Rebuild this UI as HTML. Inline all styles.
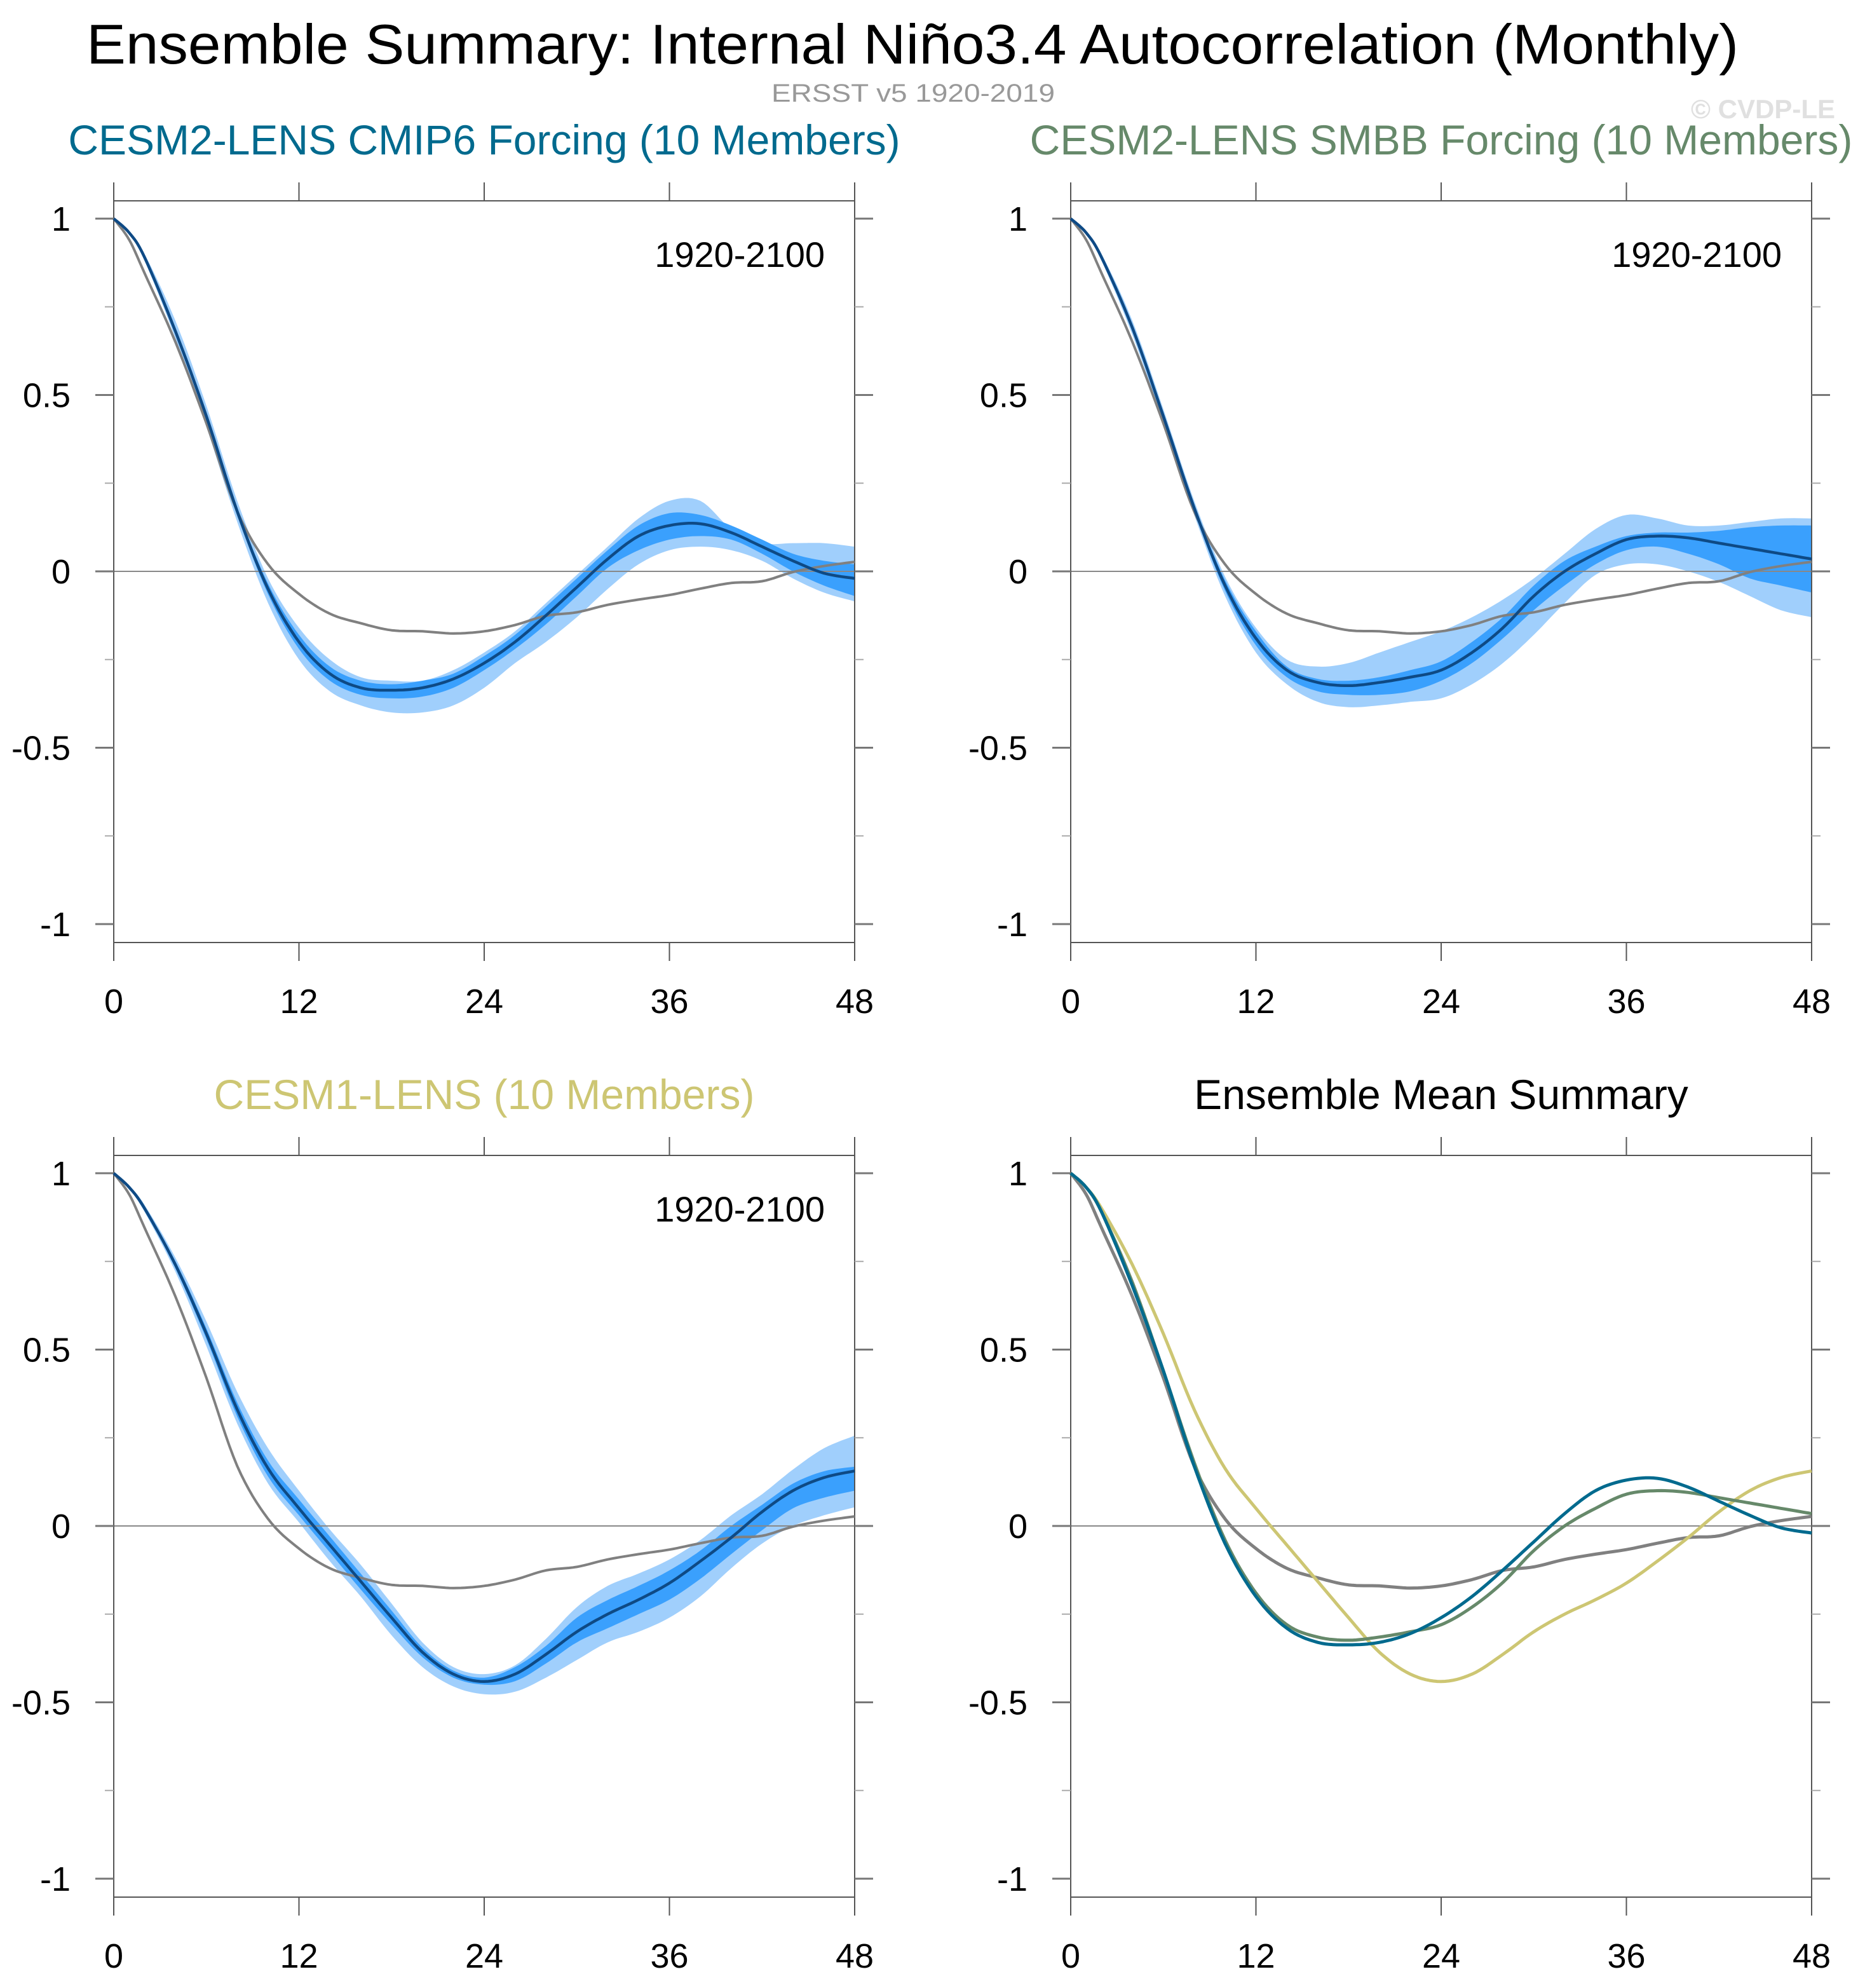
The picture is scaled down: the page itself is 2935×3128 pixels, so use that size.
<!DOCTYPE html>
<html><head><meta charset="utf-8"><style>
html,body{margin:0;padding:0;background:#fff;}
svg{display:block;font-family:"Liberation Sans",Arial,sans-serif;}
</style></head>
<body>
<svg id="fig" width="2935" height="3128" viewBox="0 0 2935 3128" xmlns="http://www.w3.org/2000/svg">
<text x="1436" y="100" font-size="88" text-anchor="middle" fill="#000" textLength="2600" lengthAdjust="spacingAndGlyphs">Ensemble Summary: Internal Niño3.4 Autocorrelation (Monthly)</text>
<text x="1437" y="160" font-size="40" text-anchor="middle" fill="#999" textLength="446" lengthAdjust="spacingAndGlyphs">ERSST v5 1920-2019</text>
<text x="2888" y="186" font-size="42" font-weight="bold" text-anchor="end" fill="#e0e0e0">© CVDP-LE</text>
<g id="plots"></g>
</svg>
<script>
// lags (month 1 added for the sharp start, then every 2 months)
const lags = [0,1,2,4,6,8,10,12,14,16,18,20,22,24,26,28,30,32,34,36,38,40,42,44,46,48];
const obsValues = [1,0.94,0.845,0.65,0.42,0.17,0.02,-0.064,-0.12,-0.147,-0.167,-0.17,-0.176,-0.17,-0.152,-0.126,-0.116,-0.095,-0.08,-0.067,-0.049,-0.033,-0.028,-0.002,0.015,0.027];

const cmip6Mean = [1,0.96,0.89,0.68,0.44,0.17,-0.05,-0.2,-0.29,-0.33,-0.337,-0.33,-0.305,-0.26,-0.2,-0.125,-0.045,0.035,0.1,0.13,0.135,0.11,0.07,0.03,-0.005,-0.02];
const cmip6DarkHi = [1,0.962,0.895,0.69,0.45,0.18,-0.035,-0.18,-0.27,-0.31,-0.32,-0.31,-0.29,-0.24,-0.18,-0.10,-0.02,0.06,0.13,0.165,0.16,0.13,0.09,0.05,0.03,0.02];
const cmip6DarkLo = [1,0.958,0.885,0.67,0.43,0.16,-0.065,-0.22,-0.31,-0.35,-0.36,-0.355,-0.33,-0.28,-0.22,-0.15,-0.07,0.01,0.06,0.09,0.1,0.09,0.05,0.0,-0.04,-0.07];
const cmip6LightHi = [1,0.965,0.9,0.71,0.47,0.2,-0.02,-0.16,-0.25,-0.3,-0.31,-0.31,-0.28,-0.23,-0.17,-0.09,-0.01,0.07,0.15,0.2,0.2,0.12,0.08,0.08,0.08,0.07];
const cmip6LightLo = [1,0.955,0.88,0.66,0.41,0.14,-0.09,-0.25,-0.34,-0.38,-0.4,-0.4,-0.38,-0.33,-0.26,-0.2,-0.13,-0.05,0.02,0.06,0.07,0.06,0.03,-0.02,-0.06,-0.085];

const smbbMean = [1,0.96,0.89,0.69,0.44,0.18,-0.04,-0.19,-0.28,-0.315,-0.324,-0.315,-0.3,-0.28,-0.23,-0.16,-0.07,0.0,0.05,0.09,0.1,0.095,0.08,0.065,0.05,0.035];
const smbbDarkHi = [1,0.962,0.895,0.70,0.45,0.19,-0.025,-0.17,-0.27,-0.305,-0.31,-0.3,-0.28,-0.255,-0.2,-0.13,-0.04,0.03,0.07,0.1,0.11,0.11,0.115,0.125,0.13,0.13];
const smbbDarkLo = [1,0.958,0.885,0.68,0.43,0.17,-0.055,-0.21,-0.3,-0.34,-0.35,-0.35,-0.34,-0.31,-0.26,-0.19,-0.11,-0.04,0.02,0.06,0.07,0.05,0.02,-0.02,-0.04,-0.06];
const smbbLightHi = [1,0.965,0.9,0.71,0.46,0.2,-0.015,-0.16,-0.25,-0.27,-0.26,-0.23,-0.2,-0.17,-0.13,-0.08,-0.02,0.05,0.12,0.16,0.15,0.13,0.13,0.14,0.15,0.15];
const smbbLightLo = [1,0.955,0.88,0.67,0.42,0.16,-0.07,-0.23,-0.32,-0.37,-0.385,-0.38,-0.37,-0.36,-0.32,-0.26,-0.18,-0.09,-0.01,0.02,0.02,0.0,-0.03,-0.07,-0.11,-0.13];

const cesm1Mean = [1,0.96,0.9,0.74,0.545,0.33,0.163,0.05,-0.054,-0.157,-0.26,-0.358,-0.42,-0.441,-0.42,-0.364,-0.30,-0.25,-0.209,-0.162,-0.10,-0.033,0.04,0.10,0.137,0.156];
const cesm1DarkHi = [1,0.962,0.905,0.75,0.56,0.35,0.185,0.075,-0.03,-0.135,-0.24,-0.345,-0.41,-0.43,-0.40,-0.34,-0.26,-0.21,-0.17,-0.126,-0.07,0.0,0.06,0.12,0.155,0.168];
const cesm1DarkLo = [1,0.958,0.895,0.73,0.53,0.31,0.14,0.03,-0.075,-0.18,-0.28,-0.372,-0.43,-0.45,-0.44,-0.39,-0.33,-0.29,-0.25,-0.209,-0.15,-0.08,-0.012,0.05,0.08,0.10];
const cesm1LightHi = [1,0.965,0.91,0.76,0.58,0.38,0.22,0.10,-0.01,-0.11,-0.22,-0.33,-0.40,-0.42,-0.395,-0.32,-0.23,-0.17,-0.135,-0.095,-0.04,0.03,0.09,0.16,0.22,0.256];
const cesm1LightLo = [1,0.955,0.89,0.72,0.51,0.29,0.12,0.01,-0.1,-0.2,-0.31,-0.40,-0.455,-0.477,-0.47,-0.43,-0.38,-0.33,-0.30,-0.26,-0.2,-0.12,-0.05,0.0,0.03,0.053];

const xTicks = [0,12,24,36,48];
const yTicks = [1,0.5,0,-0.5,-1];
const yTickLabels = ["1","0.5","0","-0.5","-1"];
const yMinorTicks = [0.75,0.25,-0.25,-0.75];
const panelTitles = ["CESM2-LENS CMIP6 Forcing (10 Members)","CESM2-LENS SMBB Forcing (10 Members)","CESM1-LENS (10 Members)","Ensemble Mean Summary"];

const NS = "http://www.w3.org/2000/svg";
const root = document.getElementById('plots');
function mk(tag, attrs, parent){
  const e = document.createElementNS(NS, tag);
  for (const k in attrs) e.setAttribute(k, attrs[k]);
  (parent||root).appendChild(e);
  return e;
}
function smoothPts(xs, ys){
  const out=[];
  const n=xs.length;
  for(let i=0;i<n-1;i++){
    const p0=[xs[Math.max(i-1,0)],ys[Math.max(i-1,0)]],p1=[xs[i],ys[i]],p2=[xs[i+1],ys[i+1]],p3=[xs[Math.min(i+2,n-1)],ys[Math.min(i+2,n-1)]];
    for(let s=0;s<8;s++){
      const t=s/8,t2=t*t,t3=t2*t;
      const f=(a,b,c,d)=>0.5*((2*b)+(-a+c)*t+(2*a-5*b+4*c-d)*t2+(-a+3*b-3*c+d)*t3);
      out.push([f(p0[0],p1[0],p2[0],p3[0]),f(p0[1],p1[1],p2[1],p3[1])]);
    }
  }
  out.push([xs[n-1],ys[n-1]]);
  return out;
}
function makePanel(px, top, titleColor, title, hasYears){
  const L=px, R=px+1166, y1=top+28, unit=555, B=top+1167;
  const sx = m => L + (m-0)/(48-0)*(R-L);
  const sy = v => y1 + (1-v)*unit;
  const g = mk('g',{});
  
  
  const t = mk('text',{x:(L+R)/2,y:top-73,'font-size':66,'text-anchor':'middle',fill:titleColor},g);
  t.textContent=title;
  
  
  return {L,R,top,B,sx,sy,g,hasYears};
}
function drawAxes(p){
  const {L,R,top,B,sx,sy,g}=p;
  const zl = mk('line',{x1:L,x2:R,y1:sy(0),y2:sy(0),stroke:'#888','stroke-width':2},g);
  
  
  const frame = mk('rect',{x:L,y:top,width:R-L,height:B-top,fill:'none',stroke:'#555','stroke-width':2},g);
  
  
  xTicks.forEach(m=>{
    mk('line',{x1:sx(m),x2:sx(m),y1:top-29,y2:top,stroke:'#555','stroke-width':2},g);
    mk('line',{x1:sx(m),x2:sx(m),y1:B,y2:B+29,stroke:'#555','stroke-width':2},g);
    const tl=mk('text',{x:sx(m),y:B+111,'font-size':54,'text-anchor':'middle',fill:'#000'},g);
    tl.textContent=String(m);
    
    
  });
  yTicks.forEach((v,i)=>{
    mk('line',{x1:L-29,x2:L,y1:sy(v),y2:sy(v),stroke:'#777','stroke-width':3},g);
    mk('line',{x1:R,x2:R+29,y1:sy(v),y2:sy(v),stroke:'#777','stroke-width':3},g);
    const tl=mk('text',{x:L-68,y:sy(v)+19,'font-size':54,'text-anchor':'end',fill:'#000'},g);
    tl.textContent=yTickLabels[i];
    
    
  });
  yMinorTicks.forEach(v=>{
    mk('line',{x1:L-14,x2:L,y1:sy(v),y2:sy(v),stroke:'#aaa','stroke-width':2},g);
    mk('line',{x1:R,x2:R+14,y1:sy(v),y2:sy(v),stroke:'#aaa','stroke-width':2},g);
  });
  if(p.hasYears){
    const yt=mk('text',{x:L+1119,y:top+104,'font-size':56,'text-anchor':'end',fill:'#000'},g);
    yt.textContent='1920-2100';
    
    
  }
}
function band(p, hi, lo, color, name){
  const a = smoothPts(lags,hi).map(q=>[p.sx(q[0]),p.sy(q[1])]);
  const b = smoothPts(lags,lo).map(q=>[p.sx(q[0]),p.sy(q[1])]).reverse();
  const d='M'+a.concat(b).map(q=>q[0].toFixed(1)+','+q[1].toFixed(1)).join('L')+'Z';
  const e=mk('path',{d:d,fill:color,stroke:'none'},p.g);
  
  
}
function line(p, vals, color, w, name){
  const a = smoothPts(lags,vals).map(q=>[p.sx(q[0]),p.sy(q[1])]);
  const d='M'+a.map(q=>q[0].toFixed(1)+','+q[1].toFixed(1)).join('L');
  const e=mk('path',{d:d,fill:'none',stroke:color,'stroke-width':w,'stroke-linejoin':'round'},p.g);
  
  
}
const LIGHT='#a0cffc', DARK='#3aa0fd', MEANC='#0e4a85', OBSC='#808080';
const p1=makePanel(179,316,'#006a8e',panelTitles[0],true);
band(p1,cmip6LightHi,cmip6LightLo,LIGHT,'cmip6-spread-outer');
band(p1,cmip6DarkHi,cmip6DarkLo,DARK,'cmip6-spread-inner');
drawAxes(p1);
line(p1,obsValues,OBSC,4,'obs-line');
line(p1,cmip6Mean,MEANC,4.5,'cmip6-mean-line');

const p2=makePanel(1685,316,'#66896a',panelTitles[1],true);
band(p2,smbbLightHi,smbbLightLo,LIGHT,'smbb-spread-outer');
band(p2,smbbDarkHi,smbbDarkLo,DARK,'smbb-spread-inner');
drawAxes(p2);
line(p2,obsValues,OBSC,4,'obs-line');
line(p2,smbbMean,MEANC,4.5,'smbb-mean-line');

const p3=makePanel(179,1818,'#cdc673',panelTitles[2],true);
band(p3,cesm1LightHi,cesm1LightLo,LIGHT,'cesm1-spread-outer');
band(p3,cesm1DarkHi,cesm1DarkLo,DARK,'cesm1-spread-inner');
drawAxes(p3);
line(p3,obsValues,OBSC,4,'obs-line');
line(p3,cesm1Mean,MEANC,4.5,'cesm1-mean-line');

const p4=makePanel(1685,1818,'#000',panelTitles[3],false);
drawAxes(p4);
line(p4,obsValues,OBSC,5,'obs-line');
line(p4,cesm1Mean,'#cdc673',5,'cesm1-mean-line');
line(p4,smbbMean,'#66896a',5,'smbb-mean-line');
line(p4,cmip6Mean,'#006a8e',5,'cmip6-mean-line');
</script>
</body></html>
